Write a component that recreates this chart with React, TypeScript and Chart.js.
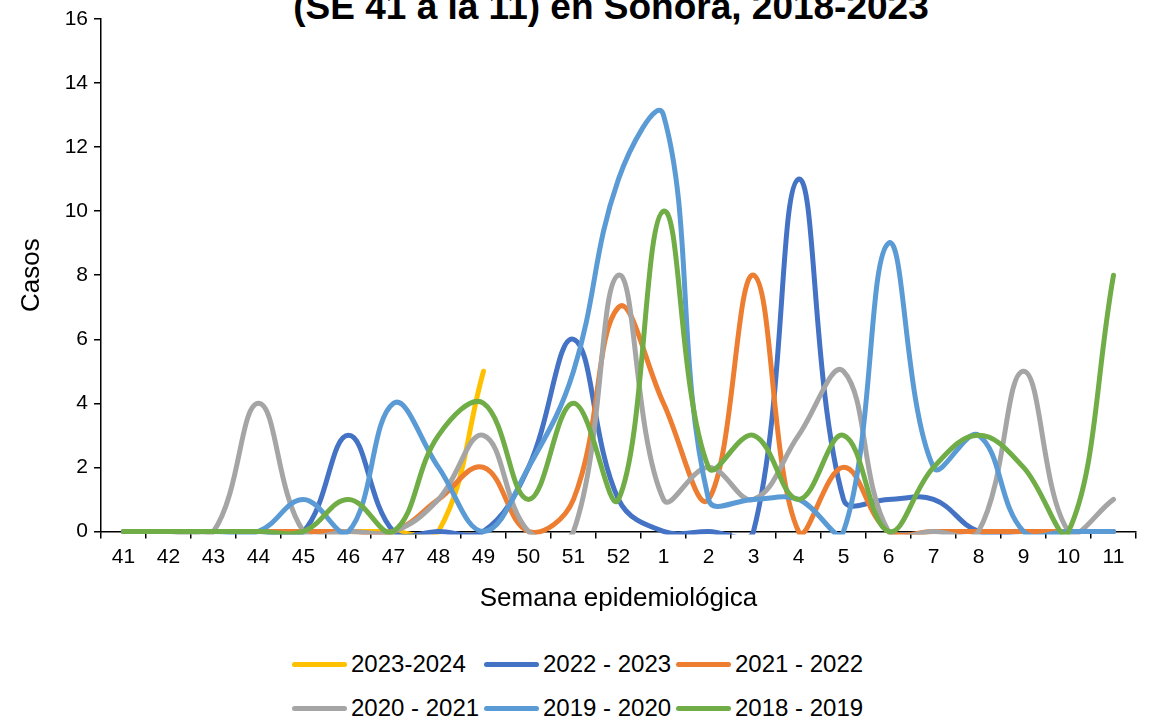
import React, { useEffect, useRef } from 'react';
import { Chart, registerables } from 'chart.js';

Chart.register(...registerables);

const weeks = ['41', '42', '43', '44', '45', '46', '47', '48', '49', '50', '51', '52', '1', '2', '3', '4', '5', '6', '7', '8', '9', '10', '11'];

const season2023 = [0, 0, 0, 0, 0, 0, 0, 0, 5, null, null, null, null, null, null, null, null, null, null, null, null, null, null];
const season2022 = [0, 0, 0, 0, 0, 3, 0, 0, 0, 2, 6, 1, 0, 0, 0, 11, 1, 1, 1, 0, 0, 0, 0];
const season2021 = [0, 0, 0, 0, 0, 0, 0, 1, 2, 0, 1, 7, 4, 1, 8, 0, 2, 0, 0, 0, 0, 0, 0];
const season2020 = [0, 0, 0, 4, 0, 0, 0, 1, 3, 0, 0, 8, 1, 2, 1, 3, 5, 0, 0, 0, 5, 0, 1];
const season2019 = [0, 0, 0, 0, 1, 0, 4, 2, 0, 2, 5, 11, 13, 1, 1, 1, 0, 9, 2, 3, 0, 0, 0];
const season2018 = [0, 0, 0, 0, 0, 1, 0, 3, 4, 1, 4, 1, 10, 2, 3, 1, 3, 0, 2, 3, 2, 0, 8];

const seriesLabels = ['2023-2024', '2022 - 2023', '2021 - 2022', '2020 - 2021', '2019 - 2020', '2018 - 2019'];
const seriesColors = ['#FFC000', '#4472C4', '#ED7D31', '#A5A5A5', '#5B9BD5', '#70AD47'];
const seriesData = [season2023, season2022, season2021, season2020, season2019, season2018];

const yTicksStep = 2;
const yMax = 16;

const titleText = '(SE 41 a la 11) en Sonora, 2018-2023';
const xTitle = 'Semana epidemiológica';
const yTitle = 'Casos';

const FONT = "'Liberation Sans', Arial, Helvetica, sans-serif";

export default function App() {
  const ref = useRef<HTMLCanvasElement>(null);

  useEffect(() => {
    const canvas = ref.current;
    if (!canvas) return;
    const chart = new Chart(canvas, {
      type: 'line',
      data: {
        labels: weeks,
        datasets: seriesData.map((d, i) => ({
          label: seriesLabels[i],
          data: d,
          borderColor: seriesColors[i],
          backgroundColor: seriesColors[i],
          borderWidth: 5,
          pointRadius: 0,
          pointHoverRadius: 0,
          tension: 0.4,
          borderCapStyle: 'round',
          borderJoinStyle: 'round',
          fill: false,
          clip: { left: false, top: false, right: false, bottom: 3 },
          order: seriesData.length - i,
        })),
      },
      options: {
        animation: false,
        responsive: true,
        maintainAspectRatio: false,
        events: [],
        elements: { line: { capBezierPoints: false } },
        layout: { padding: { top: 19, right: 17, bottom: 25.4, left: 0 } },
        plugins: {
          legend: { display: false },
          title: { display: false },
          tooltip: { enabled: false },
        },
        scales: {
          x: {
            offset: true,
            grid: {
              offset: true,
              drawOnChartArea: false,
              drawTicks: true,
              tickLength: 7,
              color: '#000',
              lineWidth: 1.5,
            },
            border: { color: '#000', width: 1.5 },
            ticks: {
              color: '#000',
              font: { family: FONT, size: 21 },
              padding: 6.4,
              maxRotation: 0,
              autoSkip: false,
            },
            title: {
              display: true,
              text: xTitle,
              color: '#000',
              font: { family: FONT, size: 26 },
              padding: { top: 7, bottom: 0 },
            },
          },
          y: {
            min: 0,
            max: yMax,
            afterFit: (s: any) => {
              s.width = 101;
            },
            grid: {
              drawOnChartArea: false,
              drawTicks: true,
              tickLength: 7,
              color: '#000',
              lineWidth: 1.5,
            },
            border: { color: '#000', width: 1.5 },
            ticks: {
              stepSize: yTicksStep,
              color: '#000',
              font: { family: FONT, size: 21 },
              padding: 6,
            },
            title: {
              display: true,
              text: yTitle,
              color: '#000',
              font: { family: FONT, size: 26 },
              padding: { top: 16, bottom: 0 },
            },
          },
        },
      } as any,
    });
    return () => chart.destroy();
  }, []);

  const legendCols = [292, 484, 676];
  const legendRows = [664, 708];

  return (
    <div style={{ position: 'absolute', left: 0, top: 0, width: 1153, height: 718, overflow: 'hidden', background: '#fff' }}>
      <div
        style={{
          position: 'absolute',
          left: 611,
          top: -11.8,
          transform: 'translateX(-50%)',
          whiteSpace: 'nowrap',
          fontFamily: FONT,
          fontWeight: 'bold',
          fontSize: 37,
          lineHeight: '37px',
          color: '#000',
        }}
      >
        {titleText}
      </div>
      <div style={{ position: 'absolute', left: 0, top: 0, width: 1153, height: 640 }}>
        <canvas ref={ref} />
      </div>
      {seriesLabels.map((lab, i) => {
        const col = i % 3;
        const row = Math.floor(i / 3);
        return (
          <div
            key={lab}
            style={{
              position: 'absolute',
              left: legendCols[col],
              top: legendRows[row] - 15,
              height: 30,
              display: 'flex',
              alignItems: 'center',
              whiteSpace: 'nowrap',
              fontFamily: FONT,
              fontSize: 24,
              lineHeight: '30px',
              color: '#000',
            }}
          >
            <span
              style={{
                display: 'inline-block',
                width: 55,
                height: 5,
                borderRadius: 2.5,
                background: seriesColors[i],
                marginRight: 4,
              }}
            />
            <span>{lab}</span>
          </div>
        );
      })}
    </div>
  );
}
